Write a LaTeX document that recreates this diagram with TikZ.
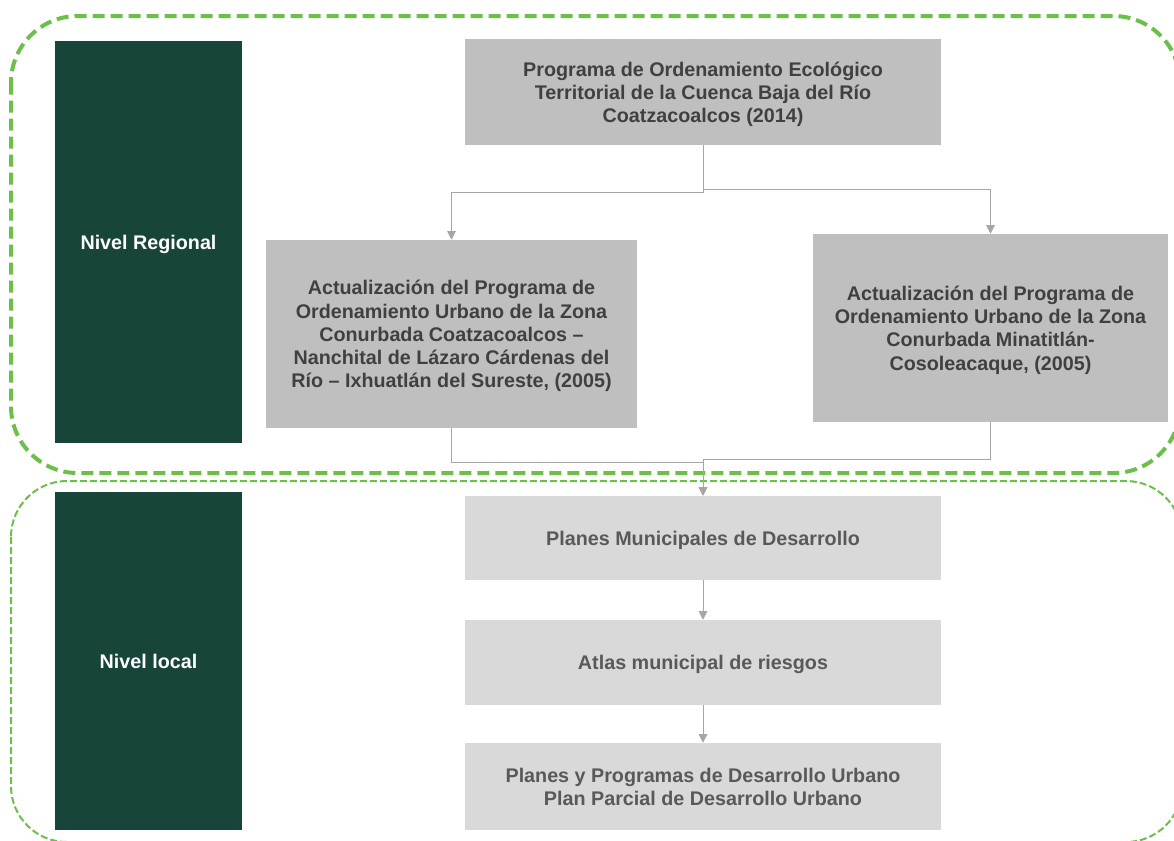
\documentclass[tikz,border=0pt]{standalone}
\usepackage{fontspec}
\setmainfont{Liberation Sans}
\usetikzlibrary{arrows.meta}
\definecolor{dkgreen}{HTML}{17453A}
\definecolor{frgreen}{HTML}{6CC04A}
\definecolor{boxgrey}{HTML}{BFBFBF}
\definecolor{boxlight}{HTML}{D9D9D9}
\definecolor{txtdark}{HTML}{404040}
\definecolor{txtgrey}{HTML}{595959}
\definecolor{lngrey}{HTML}{A6A6A6}
\tikzset{
  txt/.style={font=\fontsize{14.8}{17.4}\selectfont\bfseries, align=center, inner sep=0pt, text depth=0pt},
  levelbox/.style={txt, fill=dkgreen, text=white, minimum width=140.25pt},
  upbox/.style={txt, fill=boxgrey, text=txtdark},
  lowbox/.style={txt, fill=boxlight, text=txtgrey, minimum width=357pt},
  conn/.style={draw=lngrey, line width=0.75pt, -{Triangle[width=6.5pt,length=6.5pt]}},
  bigframe/.style={draw=frgreen, line width=3pt, dash pattern=on 9pt off 4.5pt, rounded corners=50pt},
  smallframe/.style={draw=frgreen, line width=1.5pt, dash pattern=on 5.25pt off 2.25pt, rounded corners=42pt}
}
\begin{document}
\begin{tikzpicture}[x=0.75pt, y=-0.75pt]
\useasboundingbox (0,0) rectangle (1174,840);
% frames
\draw[bigframe] (11,16) rectangle (1180,473);
\draw[smallframe] (11,481) rectangle (1182,842);
% level boxes
\node[levelbox, minimum height=301.5pt] (reg) at (148.5,242) {Nivel Regional};
\node[levelbox, minimum height=253.5pt] (loc) at (148.5,661) {Nivel local};
% upper boxes
\node[upbox, minimum width=357pt, minimum height=79.5pt] (top) at (703,92)
  {Programa de Ordenamiento Ecológico\\Territorial de la Cuenca Baja del Río\\Coatzacoalcos (2014)};
\node[upbox, minimum width=278.25pt, minimum height=141pt] (left) at (451.5,334)
  {Actualización del Programa de\\Ordenamiento Urbano de la Zona\\Conurbada Coatzacoalcos –\\Nanchital de Lázaro Cárdenas del\\Río – Ixhuatlán del Sureste, (2005)};
\node[upbox, minimum width=266.25pt, minimum height=141pt] (right) at (990.5,328)
  {Actualización del Programa de\\Ordenamiento Urbano de la Zona\\Conurbada Minatitlán-\\Cosoleacaque, (2005)};
% lower boxes
\node[lowbox, minimum height=63pt] (b1) at (703,538) {Planes Municipales de Desarrollo};
\node[lowbox, minimum height=63.75pt] (b2) at (703,662.5) {Atlas municipal de riesgos};
\node[lowbox, minimum height=65.25pt] (b3) at (703,786.5) {Planes y Programas de Desarrollo Urbano\\Plan Parcial de Desarrollo Urbano};
% connectors
\draw[conn] (top.south) -- ++(0,47) -| (left.north);
\draw[conn] (top.south) -- ++(0,44) -| (right.north);
\draw[conn] (left.south) -- ++(0,34) -| (b1.north);
\draw[conn] (right.south) -- ++(0,37) -| (b1.north);
\draw[conn] (b1.south) -- (b2.north);
\draw[conn] (b2.south) -- (b3.north);
\end{tikzpicture}
\end{document}
